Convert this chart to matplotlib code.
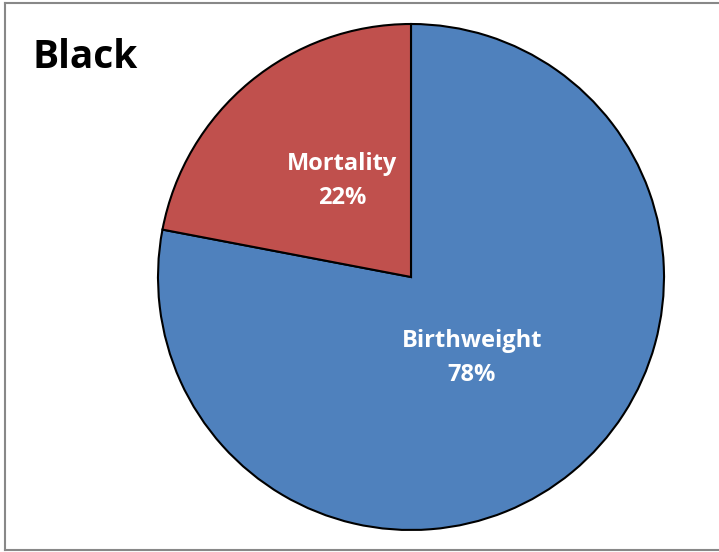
import matplotlib.pyplot as plt
from matplotlib.lines import Line2D

labels = ['Birthweight', 'Mortality']
values = [78, 22]
colors = ['#4F81BD', '#C0504D']
title = 'Black'

fig = plt.figure(figsize=(7.19, 5.52), dpi=100)

# pie: center (411, 277), radius ~253 px
cx, cy, r = 411 / 719, 1 - 277 / 552, 253
ax = fig.add_axes([cx - r / 719, cy - r / 552, 2 * r / 719, 2 * r / 552])
wedges, _ = ax.pie(values, colors=colors, startangle=90, counterclock=False,
                   wedgeprops=dict(edgecolor='black', linewidth=1.5))
ax.set_aspect('auto')
ax.set_xlim(-1.0, 1.0)
ax.set_ylim(-1.0, 1.0)

# data labels
label_pos = [(472, 358), (342, 181)]
for lab, v, (px, py) in zip(labels, values, label_pos):
    fig.text(px / 719, 1 - py / 552, f'{lab}\n{v}%', ha='center', va='center',
             color='white', fontsize=17, fontweight='bold', family='Open Sans',
             linespacing=1.6)

fig.text(33 / 719, 1 - 58 / 552, title, ha='left', va='center',
         fontsize=28, fontweight='bold', family='Open Sans', color='black')

# chart border (right side falls outside the image)
bc = '#888888'
fig.add_artist(Line2D([5 / 719, 1], [1 - 3 / 552] * 2, color=bc, lw=1.5))
fig.add_artist(Line2D([5 / 719] * 2, [1 - 3 / 552, 1 - 550 / 552], color=bc, lw=1.5))
fig.add_artist(Line2D([5 / 719, 1], [1 - 550 / 552] * 2, color=bc, lw=1.5))

fig.savefig('out.png', dpi=100)
